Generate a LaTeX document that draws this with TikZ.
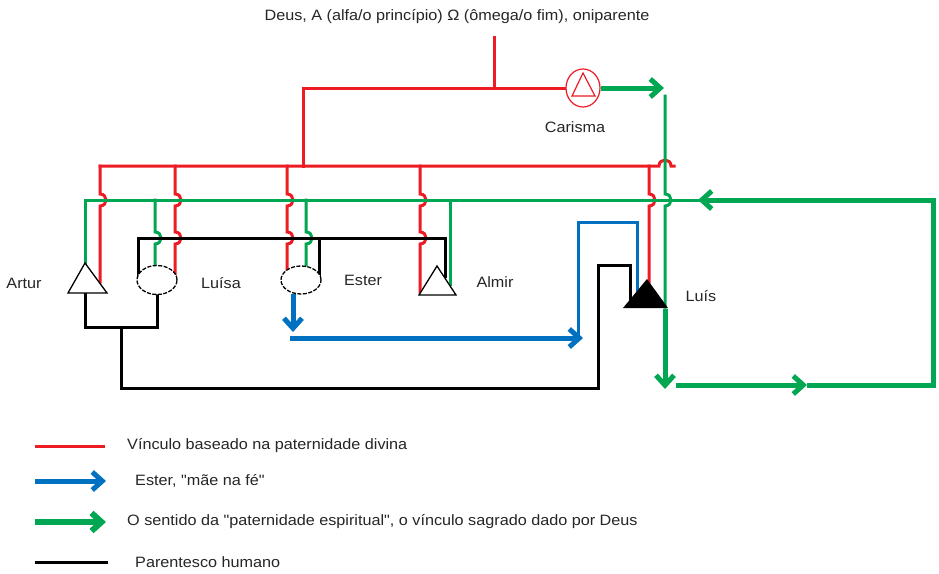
\documentclass[tikz,border=0pt]{standalone}
\usepackage{fontspec}
\setmainfont[FakeStretch=1.08,Ligatures=TeXOff]{Liberation Sans}
\usetikzlibrary{arrows.meta}
\definecolor{cred}{HTML}{ED1C24}
\definecolor{cgreen}{HTML}{00A651}
\definecolor{cblue}{HTML}{0070C0}
\begin{document}
\begin{tikzpicture}[x=1pt,y=-1pt,line join=miter,
  redl/.style={draw=cred,line width=3pt,line cap=rect},
  grnl/.style={draw=cgreen,line width=3pt,line cap=rect},
  grnth/.style={draw=cgreen,line width=5pt},
  blul/.style={draw=cblue,line width=3pt,line cap=rect},
  bluth/.style={draw=cblue,line width=5pt},
  blkl/.style={draw=black,line width=3pt,line cap=rect},
  barb/.style={-{Straight Barb[length=10pt,width=18pt]}},
  lbl/.style={font=\fontsize{15}{18}\selectfont,inner sep=0pt,text=black!85},
  vhop/.style args={#1/#2}{insert path={-- (#1,#2-6) .. controls (#1+8,#2-6) and (#1+8,#2+6) .. (#1,#2+6)}},
  uhop/.style args={#1/#2}{insert path={-- (#1-6,#2) .. controls (#1-6,#2-8) and (#1+6,#2-8) .. (#1+6,#2)}},
  person/.style={draw=black,line width=1.3pt,fill=white},
  fem/.style={person,dash pattern=on 4pt off 1.5pt}
]
\fill[white] (0,0) rectangle (939,573);
\useasboundingbox (0,0) rectangle (939,573);

% ---------- red (divine paternity) ----------
\draw[redl] (494,37) -- (494,88);
\draw[redl] (566,88) -- (303,88) -- (303,166);
\draw[redl] (100,166) [uhop=665/166] -- (674,166);
\draw[redl] (100,166) [vhop=100/200] -- (100,282);
\draw[redl] (175,166) [vhop=175/200] [vhop=175/238] -- (175,275);
\draw[redl] (287,166) [vhop=287/200] [vhop=287/238] -- (287,273);
\draw[redl] (420,166) [vhop=420/200] [vhop=420/238] -- (420,292);
\draw[redl] (649,166) [vhop=649/200] -- (649,282);

% ---------- green (spiritual paternity) ----------
\draw[grnth,barb] (601,88) -- (664,88);
\draw[grnl] (665,96) [vhop=665/200] -- (665,307);
\draw[grnth,barb] (665,309) -- (665,389);
\draw[grnl] (700,200) -- (85,200) -- (85,266);
\draw[grnl] (155,200) [vhop=155/238] -- (155,267);
\draw[grnl] (306,200) [vhop=306/238] -- (306,267);
\draw[grnl] (450,200) -- (450,284);
\draw[grnth,barb] (676,385) -- (807,385);
\draw[grnth,barb] (807,385) -- (933,385) -- (933,200) -- (698,200);

% ---------- black (human kinship) ----------
\draw[blkl] (138,277) -- (138,238) -- (445,238) -- (445,276);
\draw[blkl] (319,238) -- (319,277);
\draw[blkl] (157,295) -- (157,327) -- (85,327) -- (85,292);
\draw[blkl] (121,327) -- (121,388) -- (598,388) -- (598,265) -- (630,265) -- (630,298);

% ---------- blue (mother in faith) ----------
\draw[bluth,barb] (293,294) -- (293,332);
\draw[bluth,barb] (290,338) -- (583,338);
\draw[blul] (578,336) -- (578,222) -- (637,222) -- (637,292);

% ---------- people ----------
\draw[person] (85,263) -- (68,293) -- (107,293) -- cycle;
\coordinate (artur) at (87,282);
\draw[fem] (157,280) ellipse[x radius=20pt,y radius=14.5pt];
\coordinate (luisa) at (157,280);
\draw[fem] (301,280) ellipse[x radius=20pt,y radius=14pt];
\coordinate (ester) at (301,280);
\draw[person] (437,266) -- (419,295) -- (456,295) -- cycle;
\coordinate (almir) at (437,285);
\fill[black] (647,279) -- (623,308) -- (668,308) -- cycle;
\coordinate (luis) at (646,298);

% Carisma
\draw[draw=cred,line width=1.2pt,fill=white] (583,88) ellipse[x radius=17pt,y radius=19pt];
\draw[draw=cred,line width=1.2pt] (583,73) -- (572,96) -- (595,96) -- cycle;
\coordinate (carisma) at (583,88);

% ---------- labels ----------
\node[lbl] (tdeus) at (457,17) {Deus, A (alfa/o princípio) Ω (ômega/o fim), oniparente};
\node[lbl] (tcarisma) at (575,127) {Carisma};
\node[lbl] (tartur) at (24,283) {Artur};
\node[lbl] (tluisa) at (221,283) {Luísa};
\node[lbl] (tester) at (363,280) {Ester};
\node[lbl] (talmir) at (495,282) {Almir};
\node[lbl] (tluis) at (701,296) {Luís};

% ---------- legend ----------
\draw[redl,line cap=butt] (35,446) -- (105,446);
\draw[bluth,barb] (35,481) -- (106,481);
\draw[draw=cgreen,line width=6pt,barb] (35,522) -- (106,522);
\draw[blkl,line cap=butt] (35,562) -- (108,562);
\node[lbl,anchor=west] (leg1) at (127,446) {Vínculo baseado na paternidade divina};
\node[lbl,anchor=west] (leg2) at (135,481) {Ester, "mãe na fé"};
\node[lbl,anchor=west] (leg3) at (127,522) {O sentido da "paternidade espiritual", o vínculo sagrado dado por Deus};
\node[lbl,anchor=west] (leg4) at (135,562) {Parentesco humano};
\end{tikzpicture}
\end{document}
